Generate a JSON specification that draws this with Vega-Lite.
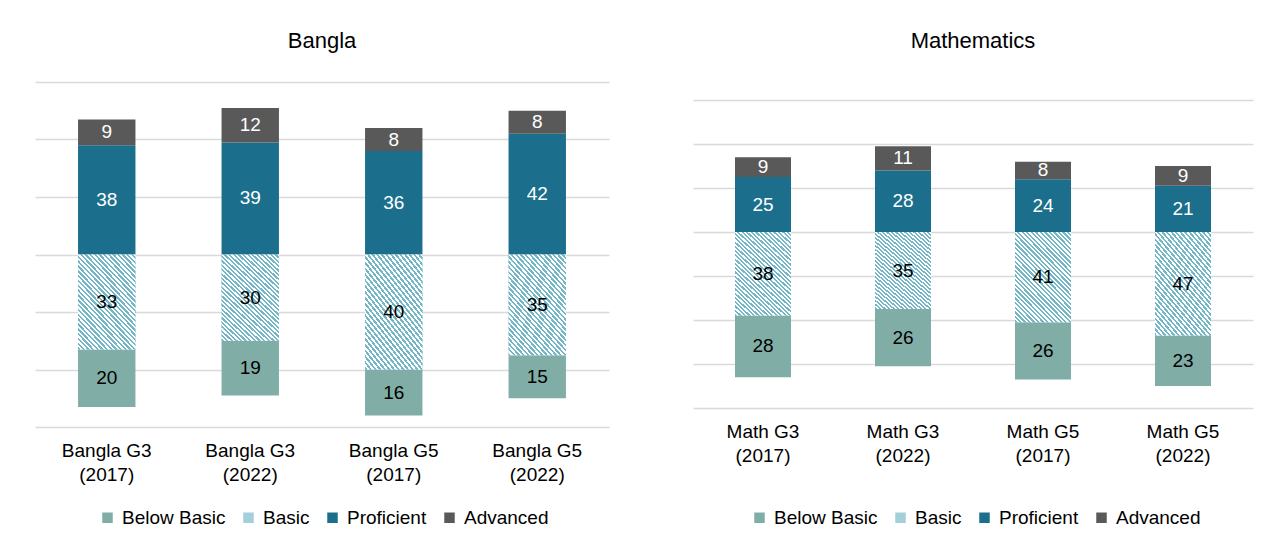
{
  "$schema": "https://vega.github.io/schema/vega-lite/v6.json",
  "background": "white",
  "padding": {"left": 35, "top": 30, "right": 10, "bottom": 0},
  "config": {
    "font": "Liberation Sans",
    "view": {"stroke": null},
    "title": {"fontSize": 22, "fontWeight": "normal", "color": "#000000", "baseline": "alphabetic", "offset": 29}
  },
  "spacing": 84,
  "resolve": {"legend": {"color": "independent"}},
  "datasets": {
    "scores": [
      {"subject": "Bangla", "grade": "Bangla G3 (2017)", "level": "Below Basic", "value": 20},
      {"subject": "Bangla", "grade": "Bangla G3 (2017)", "level": "Basic", "value": 33},
      {"subject": "Bangla", "grade": "Bangla G3 (2017)", "level": "Proficient", "value": 38},
      {"subject": "Bangla", "grade": "Bangla G3 (2017)", "level": "Advanced", "value": 9},
      {"subject": "Bangla", "grade": "Bangla G3 (2022)", "level": "Below Basic", "value": 19},
      {"subject": "Bangla", "grade": "Bangla G3 (2022)", "level": "Basic", "value": 30},
      {"subject": "Bangla", "grade": "Bangla G3 (2022)", "level": "Proficient", "value": 39},
      {"subject": "Bangla", "grade": "Bangla G3 (2022)", "level": "Advanced", "value": 12},
      {"subject": "Bangla", "grade": "Bangla G5 (2017)", "level": "Below Basic", "value": 16},
      {"subject": "Bangla", "grade": "Bangla G5 (2017)", "level": "Basic", "value": 40},
      {"subject": "Bangla", "grade": "Bangla G5 (2017)", "level": "Proficient", "value": 36},
      {"subject": "Bangla", "grade": "Bangla G5 (2017)", "level": "Advanced", "value": 8},
      {"subject": "Bangla", "grade": "Bangla G5 (2022)", "level": "Below Basic", "value": 15},
      {"subject": "Bangla", "grade": "Bangla G5 (2022)", "level": "Basic", "value": 35},
      {"subject": "Bangla", "grade": "Bangla G5 (2022)", "level": "Proficient", "value": 42},
      {"subject": "Bangla", "grade": "Bangla G5 (2022)", "level": "Advanced", "value": 8},
      {"subject": "Math", "grade": "Math G3 (2017)", "level": "Below Basic", "value": 28},
      {"subject": "Math", "grade": "Math G3 (2017)", "level": "Basic", "value": 38},
      {"subject": "Math", "grade": "Math G3 (2017)", "level": "Proficient", "value": 25},
      {"subject": "Math", "grade": "Math G3 (2017)", "level": "Advanced", "value": 9},
      {"subject": "Math", "grade": "Math G3 (2022)", "level": "Below Basic", "value": 26},
      {"subject": "Math", "grade": "Math G3 (2022)", "level": "Basic", "value": 35},
      {"subject": "Math", "grade": "Math G3 (2022)", "level": "Proficient", "value": 28},
      {"subject": "Math", "grade": "Math G3 (2022)", "level": "Advanced", "value": 11},
      {"subject": "Math", "grade": "Math G5 (2017)", "level": "Below Basic", "value": 26},
      {"subject": "Math", "grade": "Math G5 (2017)", "level": "Basic", "value": 41},
      {"subject": "Math", "grade": "Math G5 (2017)", "level": "Proficient", "value": 24},
      {"subject": "Math", "grade": "Math G5 (2017)", "level": "Advanced", "value": 8},
      {"subject": "Math", "grade": "Math G5 (2022)", "level": "Below Basic", "value": 23},
      {"subject": "Math", "grade": "Math G5 (2022)", "level": "Basic", "value": 47},
      {"subject": "Math", "grade": "Math G5 (2022)", "level": "Proficient", "value": 21},
      {"subject": "Math", "grade": "Math G5 (2022)", "level": "Advanced", "value": 9}
    ]
  },
  "hconcat": [
    {
      "title": {"text": "Bangla"},
      "width": 574,
      "height": 345,
      "data": {"name": "scores"},
      "transform": [
        {"filter": "datum.subject === 'Bangla'"},
        {"calculate": "indexof(['Basic','Below Basic','Proficient','Advanced'], datum.level)", "as": "rank"},
        {"calculate": "datum.level === 'Basic' || datum.level === 'Below Basic' ? -datum.value : datum.value", "as": "signed"},
        {"stack": "signed", "groupby": ["grade"], "sort": [{"field": "rank", "order": "ascending"}], "as": ["y0", "y1"], "offset": "zero"},
        {"calculate": "(datum.y0 + datum.y1) / 2", "as": "ymid"}
      ],
      "encoding": {
        "x": {
          "field": "grade", "type": "nominal", "sort": null,
          "scale": {"paddingInner": 0.6, "paddingOuter": 0.3},
          "axis": {"title": null, "ticks": false, "domain": false, "labelAngle": 0, "labelFontSize": 19, "labelColor": "#000000", "labelPadding": 14, "labelLineHeight": 24,
            "labelExpr": "[substring(datum.label, 0, indexof(datum.label, ' (')), substring(datum.label, indexof(datum.label, ' (') + 1)]"}
        },
        "y": {"field": "y0", "type": "quantitative", "scale": {"domain": [-60, 60], "nice": false},
          "axis": {"title": null, "labels": false, "ticks": false, "domain": false, "grid": true, "values": [-60, -40, -20, 0, 20, 40, 60], "gridColor": "#d9d9d9", "gridWidth": 1.3}},
        "y2": {"field": "y1"}
      },
      "layer": [
        {
          "mark": {"type": "bar"},
          "encoding": {
            "color": {
              "field": "level", "type": "nominal",
              "scale": {"domain": ["Below Basic", "Basic", "Proficient", "Advanced"], "range": ["#80aea6", "#a3cfda", "#1b6f8c", "#595959"]},
              "legend": {"title": null, "orient": "none", "legendX": 63, "legendY": 426, "direction": "horizontal", "symbolType": "square", "symbolSize": 110, "symbolStrokeWidth": 0, "labelFontSize": 19, "labelColor": "#000000", "labelOffset": 5, "columnPadding": 13}
            }
          }
        },
        {
          "transform": [{"filter": "datum.level === 'Basic'"}],
          "mark": {"type": "bar",
            "fill": {"gradient": "linear", "x1": 0, "y1": 1, "x2": 0.735, "y2": -0.167, "stops": [
              {"offset": 0, "color": "#74b6c6"},
              {"offset": 0.015625, "color": "#74b6c6"}, {"offset": 0.015625, "color": "#ffffff"},
              {"offset": 0.03125, "color": "#ffffff"}, {"offset": 0.03125, "color": "#74b6c6"},
              {"offset": 0.046875, "color": "#74b6c6"}, {"offset": 0.046875, "color": "#ffffff"},
              {"offset": 0.0625, "color": "#ffffff"}, {"offset": 0.0625, "color": "#74b6c6"},
              {"offset": 0.078125, "color": "#74b6c6"}, {"offset": 0.078125, "color": "#ffffff"},
              {"offset": 0.09375, "color": "#ffffff"}, {"offset": 0.09375, "color": "#74b6c6"},
              {"offset": 0.109375, "color": "#74b6c6"}, {"offset": 0.109375, "color": "#ffffff"},
              {"offset": 0.125, "color": "#ffffff"}, {"offset": 0.125, "color": "#74b6c6"},
              {"offset": 0.140625, "color": "#74b6c6"}, {"offset": 0.140625, "color": "#ffffff"},
              {"offset": 0.15625, "color": "#ffffff"}, {"offset": 0.15625, "color": "#74b6c6"},
              {"offset": 0.171875, "color": "#74b6c6"}, {"offset": 0.171875, "color": "#ffffff"},
              {"offset": 0.1875, "color": "#ffffff"}, {"offset": 0.1875, "color": "#74b6c6"},
              {"offset": 0.203125, "color": "#74b6c6"}, {"offset": 0.203125, "color": "#ffffff"},
              {"offset": 0.21875, "color": "#ffffff"}, {"offset": 0.21875, "color": "#74b6c6"},
              {"offset": 0.234375, "color": "#74b6c6"}, {"offset": 0.234375, "color": "#ffffff"},
              {"offset": 0.25, "color": "#ffffff"}, {"offset": 0.25, "color": "#74b6c6"},
              {"offset": 0.265625, "color": "#74b6c6"}, {"offset": 0.265625, "color": "#ffffff"},
              {"offset": 0.28125, "color": "#ffffff"}, {"offset": 0.28125, "color": "#74b6c6"},
              {"offset": 0.296875, "color": "#74b6c6"}, {"offset": 0.296875, "color": "#ffffff"},
              {"offset": 0.3125, "color": "#ffffff"}, {"offset": 0.3125, "color": "#74b6c6"},
              {"offset": 0.328125, "color": "#74b6c6"}, {"offset": 0.328125, "color": "#ffffff"},
              {"offset": 0.34375, "color": "#ffffff"}, {"offset": 0.34375, "color": "#74b6c6"},
              {"offset": 0.359375, "color": "#74b6c6"}, {"offset": 0.359375, "color": "#ffffff"},
              {"offset": 0.375, "color": "#ffffff"}, {"offset": 0.375, "color": "#74b6c6"},
              {"offset": 0.390625, "color": "#74b6c6"}, {"offset": 0.390625, "color": "#ffffff"},
              {"offset": 0.40625, "color": "#ffffff"}, {"offset": 0.40625, "color": "#74b6c6"},
              {"offset": 0.421875, "color": "#74b6c6"}, {"offset": 0.421875, "color": "#ffffff"},
              {"offset": 0.4375, "color": "#ffffff"}, {"offset": 0.4375, "color": "#74b6c6"},
              {"offset": 0.453125, "color": "#74b6c6"}, {"offset": 0.453125, "color": "#ffffff"},
              {"offset": 0.46875, "color": "#ffffff"}, {"offset": 0.46875, "color": "#74b6c6"},
              {"offset": 0.484375, "color": "#74b6c6"}, {"offset": 0.484375, "color": "#ffffff"},
              {"offset": 0.5, "color": "#ffffff"}, {"offset": 0.5, "color": "#74b6c6"},
              {"offset": 0.515625, "color": "#74b6c6"}, {"offset": 0.515625, "color": "#ffffff"},
              {"offset": 0.53125, "color": "#ffffff"}, {"offset": 0.53125, "color": "#74b6c6"},
              {"offset": 0.546875, "color": "#74b6c6"}, {"offset": 0.546875, "color": "#ffffff"},
              {"offset": 0.5625, "color": "#ffffff"}, {"offset": 0.5625, "color": "#74b6c6"},
              {"offset": 0.578125, "color": "#74b6c6"}, {"offset": 0.578125, "color": "#ffffff"},
              {"offset": 0.59375, "color": "#ffffff"}, {"offset": 0.59375, "color": "#74b6c6"},
              {"offset": 0.609375, "color": "#74b6c6"}, {"offset": 0.609375, "color": "#ffffff"},
              {"offset": 0.625, "color": "#ffffff"}, {"offset": 0.625, "color": "#74b6c6"},
              {"offset": 0.640625, "color": "#74b6c6"}, {"offset": 0.640625, "color": "#ffffff"},
              {"offset": 0.65625, "color": "#ffffff"}, {"offset": 0.65625, "color": "#74b6c6"},
              {"offset": 0.671875, "color": "#74b6c6"}, {"offset": 0.671875, "color": "#ffffff"},
              {"offset": 0.6875, "color": "#ffffff"}, {"offset": 0.6875, "color": "#74b6c6"},
              {"offset": 0.703125, "color": "#74b6c6"}, {"offset": 0.703125, "color": "#ffffff"},
              {"offset": 0.71875, "color": "#ffffff"}, {"offset": 0.71875, "color": "#74b6c6"},
              {"offset": 0.734375, "color": "#74b6c6"}, {"offset": 0.734375, "color": "#ffffff"},
              {"offset": 0.75, "color": "#ffffff"}, {"offset": 0.75, "color": "#74b6c6"},
              {"offset": 0.765625, "color": "#74b6c6"}, {"offset": 0.765625, "color": "#ffffff"},
              {"offset": 0.78125, "color": "#ffffff"}, {"offset": 0.78125, "color": "#74b6c6"},
              {"offset": 0.796875, "color": "#74b6c6"}, {"offset": 0.796875, "color": "#ffffff"},
              {"offset": 0.8125, "color": "#ffffff"}, {"offset": 0.8125, "color": "#74b6c6"},
              {"offset": 0.828125, "color": "#74b6c6"}, {"offset": 0.828125, "color": "#ffffff"},
              {"offset": 0.84375, "color": "#ffffff"}, {"offset": 0.84375, "color": "#74b6c6"},
              {"offset": 0.859375, "color": "#74b6c6"}, {"offset": 0.859375, "color": "#ffffff"},
              {"offset": 0.875, "color": "#ffffff"}, {"offset": 0.875, "color": "#74b6c6"},
              {"offset": 0.890625, "color": "#74b6c6"}, {"offset": 0.890625, "color": "#ffffff"},
              {"offset": 0.90625, "color": "#ffffff"}, {"offset": 0.90625, "color": "#74b6c6"},
              {"offset": 0.921875, "color": "#74b6c6"}, {"offset": 0.921875, "color": "#ffffff"},
              {"offset": 0.9375, "color": "#ffffff"}, {"offset": 0.9375, "color": "#74b6c6"},
              {"offset": 0.953125, "color": "#74b6c6"}, {"offset": 0.953125, "color": "#ffffff"},
              {"offset": 0.96875, "color": "#ffffff"}, {"offset": 0.96875, "color": "#74b6c6"},
              {"offset": 0.984375, "color": "#74b6c6"}, {"offset": 0.984375, "color": "#ffffff"},
              {"offset": 1, "color": "#ffffff"}
            ]}},
          "encoding": {}
        },
        {
          "mark": {"type": "text", "fontSize": 19},
          "encoding": {
            "y": {"field": "ymid", "type": "quantitative"},
            "y2": null,
            "text": {"field": "value", "type": "quantitative"},
            "color": {"condition": {"test": "datum.level === 'Proficient' || datum.level === 'Advanced'", "value": "#ffffff"}, "value": "#000000"}
          }
        }
      ]
    },
    {
      "title": {"text": "Mathematics"},
      "width": 560,
      "height": 326,
      "data": {"name": "scores"},
      "transform": [
        {"filter": "datum.subject === 'Math'"},
        {"calculate": "indexof(['Basic','Below Basic','Proficient','Advanced'], datum.level)", "as": "rank"},
        {"calculate": "datum.level === 'Basic' || datum.level === 'Below Basic' ? -datum.value : datum.value", "as": "signed"},
        {"stack": "signed", "groupby": ["grade"], "sort": [{"field": "rank", "order": "ascending"}], "as": ["y0", "y1"], "offset": "zero"},
        {"calculate": "(datum.y0 + datum.y1) / 2", "as": "ymid"}
      ],
      "encoding": {
        "x": {
          "field": "grade", "type": "nominal", "sort": null,
          "scale": {"paddingInner": 0.6, "paddingOuter": 0.3},
          "axis": {"title": null, "ticks": false, "domain": false, "labelAngle": 0, "labelFontSize": 19, "labelColor": "#000000", "labelPadding": 14, "labelLineHeight": 24,
            "labelExpr": "[substring(datum.label, 0, indexof(datum.label, ' (')), substring(datum.label, indexof(datum.label, ' (') + 1)]"}
        },
        "y": {"field": "y0", "type": "quantitative", "scale": {"domain": [-80, 68.2], "nice": false},
          "axis": {"title": null, "labels": false, "ticks": false, "domain": false, "grid": true, "values": [-80, -60, -40, -20, 0, 20, 40, 60], "gridColor": "#d9d9d9", "gridWidth": 1.3}},
        "y2": {"field": "y1"}
      },
      "layer": [
        {
          "mark": {"type": "bar"},
          "encoding": {
            "color": {
              "field": "level", "type": "nominal",
              "scale": {"domain": ["Below Basic", "Basic", "Proficient", "Advanced"], "range": ["#80aea6", "#a3cfda", "#1b6f8c", "#595959"]},
              "legend": {"title": null, "orient": "none", "legendX": 57, "legendY": 426, "direction": "horizontal", "symbolType": "square", "symbolSize": 110, "symbolStrokeWidth": 0, "labelFontSize": 19, "labelColor": "#000000", "labelOffset": 5, "columnPadding": 13}
            }
          }
        },
        {
          "transform": [{"filter": "datum.level === 'Basic'"}],
          "mark": {"type": "bar",
            "fill": {"gradient": "linear", "x1": 0, "y1": 1, "x2": 0.735, "y2": -0.167, "stops": [
              {"offset": 0, "color": "#74b6c6"},
              {"offset": 0.015625, "color": "#74b6c6"}, {"offset": 0.015625, "color": "#ffffff"},
              {"offset": 0.03125, "color": "#ffffff"}, {"offset": 0.03125, "color": "#74b6c6"},
              {"offset": 0.046875, "color": "#74b6c6"}, {"offset": 0.046875, "color": "#ffffff"},
              {"offset": 0.0625, "color": "#ffffff"}, {"offset": 0.0625, "color": "#74b6c6"},
              {"offset": 0.078125, "color": "#74b6c6"}, {"offset": 0.078125, "color": "#ffffff"},
              {"offset": 0.09375, "color": "#ffffff"}, {"offset": 0.09375, "color": "#74b6c6"},
              {"offset": 0.109375, "color": "#74b6c6"}, {"offset": 0.109375, "color": "#ffffff"},
              {"offset": 0.125, "color": "#ffffff"}, {"offset": 0.125, "color": "#74b6c6"},
              {"offset": 0.140625, "color": "#74b6c6"}, {"offset": 0.140625, "color": "#ffffff"},
              {"offset": 0.15625, "color": "#ffffff"}, {"offset": 0.15625, "color": "#74b6c6"},
              {"offset": 0.171875, "color": "#74b6c6"}, {"offset": 0.171875, "color": "#ffffff"},
              {"offset": 0.1875, "color": "#ffffff"}, {"offset": 0.1875, "color": "#74b6c6"},
              {"offset": 0.203125, "color": "#74b6c6"}, {"offset": 0.203125, "color": "#ffffff"},
              {"offset": 0.21875, "color": "#ffffff"}, {"offset": 0.21875, "color": "#74b6c6"},
              {"offset": 0.234375, "color": "#74b6c6"}, {"offset": 0.234375, "color": "#ffffff"},
              {"offset": 0.25, "color": "#ffffff"}, {"offset": 0.25, "color": "#74b6c6"},
              {"offset": 0.265625, "color": "#74b6c6"}, {"offset": 0.265625, "color": "#ffffff"},
              {"offset": 0.28125, "color": "#ffffff"}, {"offset": 0.28125, "color": "#74b6c6"},
              {"offset": 0.296875, "color": "#74b6c6"}, {"offset": 0.296875, "color": "#ffffff"},
              {"offset": 0.3125, "color": "#ffffff"}, {"offset": 0.3125, "color": "#74b6c6"},
              {"offset": 0.328125, "color": "#74b6c6"}, {"offset": 0.328125, "color": "#ffffff"},
              {"offset": 0.34375, "color": "#ffffff"}, {"offset": 0.34375, "color": "#74b6c6"},
              {"offset": 0.359375, "color": "#74b6c6"}, {"offset": 0.359375, "color": "#ffffff"},
              {"offset": 0.375, "color": "#ffffff"}, {"offset": 0.375, "color": "#74b6c6"},
              {"offset": 0.390625, "color": "#74b6c6"}, {"offset": 0.390625, "color": "#ffffff"},
              {"offset": 0.40625, "color": "#ffffff"}, {"offset": 0.40625, "color": "#74b6c6"},
              {"offset": 0.421875, "color": "#74b6c6"}, {"offset": 0.421875, "color": "#ffffff"},
              {"offset": 0.4375, "color": "#ffffff"}, {"offset": 0.4375, "color": "#74b6c6"},
              {"offset": 0.453125, "color": "#74b6c6"}, {"offset": 0.453125, "color": "#ffffff"},
              {"offset": 0.46875, "color": "#ffffff"}, {"offset": 0.46875, "color": "#74b6c6"},
              {"offset": 0.484375, "color": "#74b6c6"}, {"offset": 0.484375, "color": "#ffffff"},
              {"offset": 0.5, "color": "#ffffff"}, {"offset": 0.5, "color": "#74b6c6"},
              {"offset": 0.515625, "color": "#74b6c6"}, {"offset": 0.515625, "color": "#ffffff"},
              {"offset": 0.53125, "color": "#ffffff"}, {"offset": 0.53125, "color": "#74b6c6"},
              {"offset": 0.546875, "color": "#74b6c6"}, {"offset": 0.546875, "color": "#ffffff"},
              {"offset": 0.5625, "color": "#ffffff"}, {"offset": 0.5625, "color": "#74b6c6"},
              {"offset": 0.578125, "color": "#74b6c6"}, {"offset": 0.578125, "color": "#ffffff"},
              {"offset": 0.59375, "color": "#ffffff"}, {"offset": 0.59375, "color": "#74b6c6"},
              {"offset": 0.609375, "color": "#74b6c6"}, {"offset": 0.609375, "color": "#ffffff"},
              {"offset": 0.625, "color": "#ffffff"}, {"offset": 0.625, "color": "#74b6c6"},
              {"offset": 0.640625, "color": "#74b6c6"}, {"offset": 0.640625, "color": "#ffffff"},
              {"offset": 0.65625, "color": "#ffffff"}, {"offset": 0.65625, "color": "#74b6c6"},
              {"offset": 0.671875, "color": "#74b6c6"}, {"offset": 0.671875, "color": "#ffffff"},
              {"offset": 0.6875, "color": "#ffffff"}, {"offset": 0.6875, "color": "#74b6c6"},
              {"offset": 0.703125, "color": "#74b6c6"}, {"offset": 0.703125, "color": "#ffffff"},
              {"offset": 0.71875, "color": "#ffffff"}, {"offset": 0.71875, "color": "#74b6c6"},
              {"offset": 0.734375, "color": "#74b6c6"}, {"offset": 0.734375, "color": "#ffffff"},
              {"offset": 0.75, "color": "#ffffff"}, {"offset": 0.75, "color": "#74b6c6"},
              {"offset": 0.765625, "color": "#74b6c6"}, {"offset": 0.765625, "color": "#ffffff"},
              {"offset": 0.78125, "color": "#ffffff"}, {"offset": 0.78125, "color": "#74b6c6"},
              {"offset": 0.796875, "color": "#74b6c6"}, {"offset": 0.796875, "color": "#ffffff"},
              {"offset": 0.8125, "color": "#ffffff"}, {"offset": 0.8125, "color": "#74b6c6"},
              {"offset": 0.828125, "color": "#74b6c6"}, {"offset": 0.828125, "color": "#ffffff"},
              {"offset": 0.84375, "color": "#ffffff"}, {"offset": 0.84375, "color": "#74b6c6"},
              {"offset": 0.859375, "color": "#74b6c6"}, {"offset": 0.859375, "color": "#ffffff"},
              {"offset": 0.875, "color": "#ffffff"}, {"offset": 0.875, "color": "#74b6c6"},
              {"offset": 0.890625, "color": "#74b6c6"}, {"offset": 0.890625, "color": "#ffffff"},
              {"offset": 0.90625, "color": "#ffffff"}, {"offset": 0.90625, "color": "#74b6c6"},
              {"offset": 0.921875, "color": "#74b6c6"}, {"offset": 0.921875, "color": "#ffffff"},
              {"offset": 0.9375, "color": "#ffffff"}, {"offset": 0.9375, "color": "#74b6c6"},
              {"offset": 0.953125, "color": "#74b6c6"}, {"offset": 0.953125, "color": "#ffffff"},
              {"offset": 0.96875, "color": "#ffffff"}, {"offset": 0.96875, "color": "#74b6c6"},
              {"offset": 0.984375, "color": "#74b6c6"}, {"offset": 0.984375, "color": "#ffffff"},
              {"offset": 1, "color": "#ffffff"}
            ]}},
          "encoding": {}
        },
        {
          "mark": {"type": "text", "fontSize": 19},
          "encoding": {
            "y": {"field": "ymid", "type": "quantitative"},
            "y2": null,
            "text": {"field": "value", "type": "quantitative"},
            "color": {"condition": {"test": "datum.level === 'Proficient' || datum.level === 'Advanced'", "value": "#ffffff"}, "value": "#000000"}
          }
        }
      ]
    }
  ]
}
